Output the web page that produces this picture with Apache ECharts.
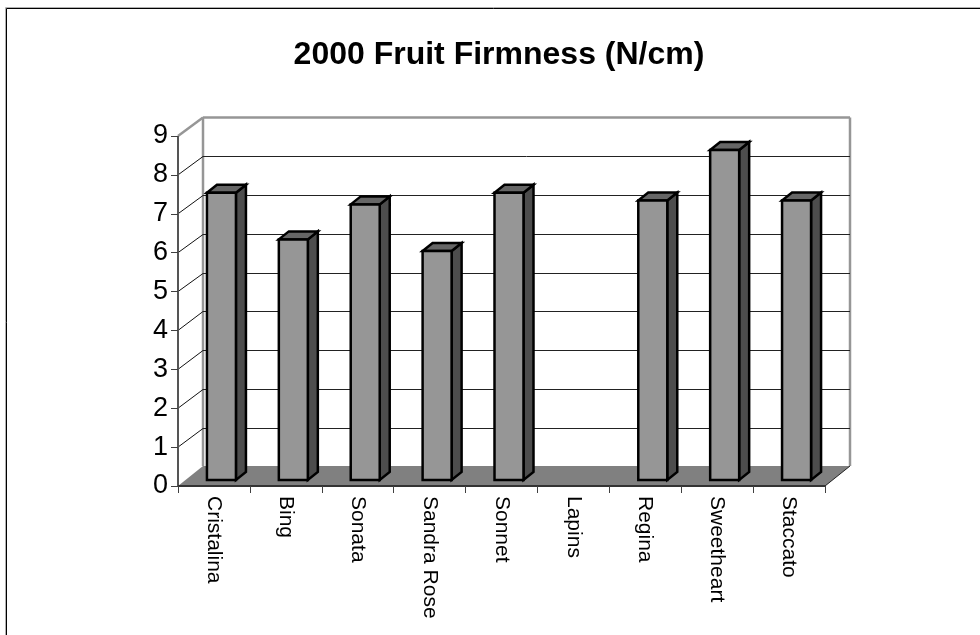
<!DOCTYPE html>
<html>
<head>
<meta charset="utf-8">
<style>html,body{margin:0;padding:0;background:#fff}#c{width:980px;height:635px}</style>
<script src="https://cdn.jsdelivr.net/npm/echarts@6/dist/echarts.min.js"></script>
</head>
<body>
<div id="c"></div>
<script>
const titleText = '2000 Fruit Firmness (N/cm)';
const categories = ['Cristalina','Bing','Sonata','Sandra Rose','Sonnet','Lapins','Regina','Sweetheart','Staccato'];
const firmness = [7.4,6.2,7.1,5.9,7.4,null,7.2,8.5,7.2];
const yTicks = [0,1,2,3,4,5,6,7,8,9];

const DX = 25, DY = -18.5, DY_FLOOR = -20;
const chart = echarts.init(document.getElementById('c'), null, {renderer:'canvas'});
const WALL = '#969696', DARK = '#404040';

function line(x1,y1,x2,y2,color,w){
  return {type:'line',shape:{x1,y1,x2,y2},style:{stroke:color,lineWidth:w},silent:true};
}
function crisp(v){ return Math.floor(v)+0.5; }
chart.setOption({
  animation:false,
  backgroundColor:'#fff',
  title:{text:titleText,left:494,top:34,textAlign:'center',
    textStyle:{fontFamily:'Liberation Sans',fontWeight:'bold',fontSize:32,color:'#000'}},
  grid:{left:178,right:155,top:136,bottom:149,containLabel:false},
  xAxis:{type:'category',data:categories,
    axisLine:{show:false},
    axisTick:{show:true,length:7,lineStyle:{color:DARK,width:1},alignWithLabel:false},
    axisLabel:{rotate:-90,interval:0,margin:10,fontFamily:'Liberation Sans',fontSize:21,color:'#000'},
    z:5},
  yAxis:{type:'value',min:0,max:9,interval:1,
    splitLine:{show:false},
    axisLine:{show:false},
    axisTick:{show:true,length:7,lineStyle:{color:DARK,width:1}},
    axisLabel:{margin:10,fontFamily:'Liberation Sans',fontSize:27,color:'#000'},
    z:5},
  graphic:[
    {type:'rect',shape:{x:5.5,y:7.5,width:985,height:640},style:{fill:'none',stroke:'#b0b0b0',lineWidth:1},silent:true,z:-10},
    {type:'rect',shape:{x:6.5,y:8.5,width:985,height:640},style:{fill:'none',stroke:'#000',lineWidth:1},silent:true,z:-10}
  ],
  series:[
    {type:'custom',coordinateSystem:'cartesian2d',clip:false,z:1,silent:true,
      data:yTicks,
      encode:{y:0},
      renderItem(p,api){
        const v=api.value(0);
        const y=api.coord([0,v])[1];
        const band=api.size([1,0])[0];
        const x0=api.coord([0,0])[0]-band/2, x1=x0+band*9;
        const y9=api.coord([0,9])[1];
        const ch=[];
        if(v===0){
          ch.push({type:'polygon',shape:{points:[[x0,y],[x0+DX,y+DY_FLOOR],[x1+DX,y+DY_FLOOR],[x1,y]]},style:{fill:'#808080'}});
          ch.push(line(x0+DX,y+DY_FLOOR,x0+DX,y9+DY,WALL,2.5));
          ch.push(line(x1+DX,y+DY_FLOOR,x1+DX,y9+DY,WALL,2.5));
          ch.push(line(x1,y,x1+DX,y+DY_FLOOR,'#222',1));
        } else if(v===9){
          ch.push(line(x0,y,x0+DX,y+DY,WALL,2.5));
          ch.push(line(x0+DX,y+DY,x1+DX,y+DY,WALL,2.5));
        } else {
          const yb=crisp(y+DY);
          ch.push(line(x0,y,x0+DX,yb,'#111',1));
          ch.push(line(x0+DX,yb,x1+DX,yb,'#222',1));
        }
        return {type:'group',children:ch};
      }},
    {type:'custom',coordinateSystem:'cartesian2d',clip:false,z:3,silent:true,
      data:categories.map((c,i)=>[c,firmness[i]]),
      encode:{x:0,y:1},
      renderItem(p,api){
        const v=api.value(1);
        if(v==null||isNaN(v)) return null;
        const pt=api.coord([api.value(0),v]);
        const base=api.coord([api.value(0),0])[1];
        const cx=pt[0]+7.5, yT=pt[1]-5.5, yB=base-6, w=29, ox=10, oy=-8;
        const L=cx-w/2,R=cx+w/2;
        const st=(f)=>({fill:f,stroke:'#000',lineWidth:2.5,lineJoin:'miter'});
        return {type:'group',children:[
          {type:'polygon',shape:{points:[[R,yT],[R+ox,yT+oy],[R+ox,yB+oy],[R,yB]]},style:st('#4d4d4d')},
          {type:'polygon',shape:{points:[[L,yT],[L+ox,yT+oy],[R+ox,yT+oy],[R,yT]]},style:st('#666666')},
          {type:'polygon',shape:{points:[[L,yT],[R,yT],[R,yB],[L,yB]]},style:st('#969696')}
        ]};
      }},
    {type:'custom',coordinateSystem:'cartesian2d',clip:false,z:4,silent:true,
      data:[0],encode:{y:0},
      renderItem(p,api){
        const y0=api.coord([0,0])[1], y9=api.coord([0,9])[1];
        const band=api.size([1,0])[0];
        const x0=api.coord([0,0])[0]-band/2, x1=x0+band*9;
        return {type:'group',children:[
          line(x0,y0,x0,y9,'#555',2),
          line(x0,y0,x1,y0,'#333',2)
        ]};
      }}
  ]
});
</script>
</body>
</html>
